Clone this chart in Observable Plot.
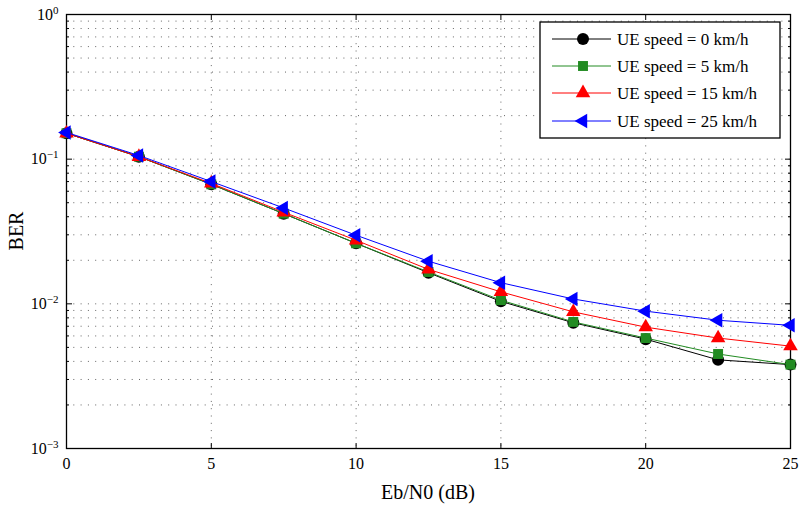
<!DOCTYPE html>
<html>
<head>
<meta charset="utf-8">
<script src="https://cdn.jsdelivr.net/npm/d3@7"></script>
<script src="https://cdn.jsdelivr.net/npm/@observablehq/plot@0.6"></script>
<style>
  html, body { margin: 0; padding: 0; background: #fff; }
  #chart { width: 802px; height: 508px; }
  #chart svg text, #chart svg tspan { font-family: 'Liberation Serif', serif !important; }
</style>
</head>
<body>
<div id="chart"></div>
<script>
// ---- data ----
const ebn0 = [0, 2.5, 5, 7.5, 10, 12.5, 15, 17.5, 20, 22.5, 25];
const berSpeed0  = [0.151, 0.104, 0.067, 0.042, 0.0262, 0.0164, 0.0104, 0.0074, 0.0057, 0.0041, 0.0038];
const berSpeed5  = [0.151, 0.104, 0.067, 0.042, 0.0262, 0.0166, 0.0106, 0.0075, 0.0058, 0.0045, 0.0038];
const berSpeed15 = [0.151, 0.104, 0.068, 0.043, 0.0275, 0.0173, 0.0121, 0.0088, 0.0069, 0.0058, 0.0051];
const berSpeed25 = [0.153, 0.106, 0.070, 0.046, 0.0298, 0.0197, 0.0140, 0.0108, 0.0089, 0.0077, 0.0071];
const seriesNames = ["UE speed = 0 km/h", "UE speed = 5 km/h", "UE speed = 15 km/h", "UE speed = 25 km/h"];
const seriesColors = ["#000000", "#228B22", "#ff0000", "#0000ff"];
const seriesSymbols = ["circle", "square", "triangle", "triangle"];
const seriesRotate = [0, 0, 0, -90];
const seriesR = [6, 5.6, 5.4, 5.4];
const xTicks = [0, 5, 10, 15, 20, 25];
const yMajor = [1e-3, 1e-2, 1e-1, 1];
const yMinor = [2,3,4,5,6,7,8,9].flatMap(m => [1e-3, 1e-2, 1e-1].map(d => m * d));

const FONT = "Liberation Serif";

const allSeries = [berSpeed0, berSpeed5, berSpeed15, berSpeed25];
const rows = allSeries.map((arr, i) => ebn0.map((x, j) => ({x, y: arr[j], s: seriesNames[i]})));

const marks = [
  Plot.gridX(xTicks, {stroke: "#666", strokeOpacity: 1, strokeDasharray: "1,6.3"}),
  Plot.gridY(yMajor.concat(yMinor), {stroke: "#666", strokeOpacity: 1, strokeDasharray: "1,6.3"}),
  Plot.axisX(xTicks, {anchor: "bottom", tickSize: -5, tickPadding: 14, fontSize: 16, label: null}),
  Plot.axisX(xTicks, {anchor: "top", tickSize: -5, tickFormat: () => "", label: null}),
  Plot.axisY(yMajor, {anchor: "left", tickSize: -6, tickPadding: 14, fontSize: 16, label: null,
    tickFormat: d => "10^" + Math.round(Math.log10(d))}),
  Plot.axisY(yMajor, {anchor: "right", tickSize: -6, tickFormat: () => "", label: null}),
  Plot.axisY(yMinor, {anchor: "left", tickSize: -3, tickFormat: () => "", label: null}),
  Plot.axisY(yMinor, {anchor: "right", tickSize: -3, tickFormat: () => "", label: null}),
  Plot.frame({stroke: "#000", strokeWidth: 1.3})
];
rows.forEach((data, i) => {
  marks.push(Plot.line(data, {x: "x", y: "y", stroke: seriesColors[i], strokeWidth: 1}));
  marks.push(Plot.dot(data, {x: "x", y: "y", fill: seriesColors[i], stroke: "none",
    symbol: seriesSymbols[i], r: seriesR[i], rotate: seriesRotate[i]}));
});

const plot = Plot.plot({
  width: 802,
  height: 508,
  marginLeft: 66,
  marginRight: 12,
  marginTop: 14,
  marginBottom: 60,
  style: {fontSize: "16px", color: "#000"},
  x: {domain: [0, 25], label: null},
  y: {type: "log", domain: [1e-3, 1], label: null},
  marks
});

const svg = d3.select(plot);
svg.attr("font-family", FONT);
// superscript exponents on y tick labels
svg.selectAll('g[aria-label="y-axis tick label"] text').each(function() {
  const t = d3.select(this);
  const txt = t.text();
  if (!txt.startsWith("10^")) return;
  const exp = txt.slice(3).replace("-", "\u2212");
  t.text(null);
  t.append("tspan").text("10");
  t.append("tspan").attr("dy", "-0.55em").attr("font-size", "11px").text(exp);
});

// axis titles
svg.append("text").attr("x", 428).attr("y", 499).attr("text-anchor", "middle")
  .attr("font-size", 20).text("Eb/N0 (dB)");
svg.append("text").attr("transform", "translate(23,231) rotate(-90)").attr("text-anchor", "middle")
  .attr("font-size", 20).text("BER");

// legend
const lg = svg.append("g");
lg.append("rect").attr("x", 540).attr("y", 22).attr("width", 240).attr("height", 116)
  .attr("fill", "#fff").attr("stroke", "#000").attr("stroke-width", 1.3);
const rowY = [39, 66, 93, 121];
seriesNames.forEach((name, i) => {
  const y = rowY[i];
  lg.append("line").attr("x1", 552).attr("x2", 611).attr("y1", y).attr("y2", y)
    .attr("stroke", seriesColors[i]).attr("stroke-width", 1);
  const typ = seriesSymbols[i] === "circle" ? d3.symbolCircle : seriesSymbols[i] === "square" ? d3.symbolSquare : d3.symbolTriangle;
  lg.append("path").attr("d", d3.symbol(typ, Math.PI * seriesR[i] * seriesR[i])())
    .attr("transform", `translate(583,${y}) rotate(${seriesRotate[i]})`)
    .attr("fill", seriesColors[i]);
  lg.append("text").attr("x", 617).attr("y", y).attr("dy", "0.35em")
    .attr("text-anchor", "start").attr("font-size", 17).text(name);
});

svg.selectAll("text").attr("font-family", FONT).style("font-family", FONT);

document.getElementById("chart").appendChild(plot);
</script>
</body>
</html>
